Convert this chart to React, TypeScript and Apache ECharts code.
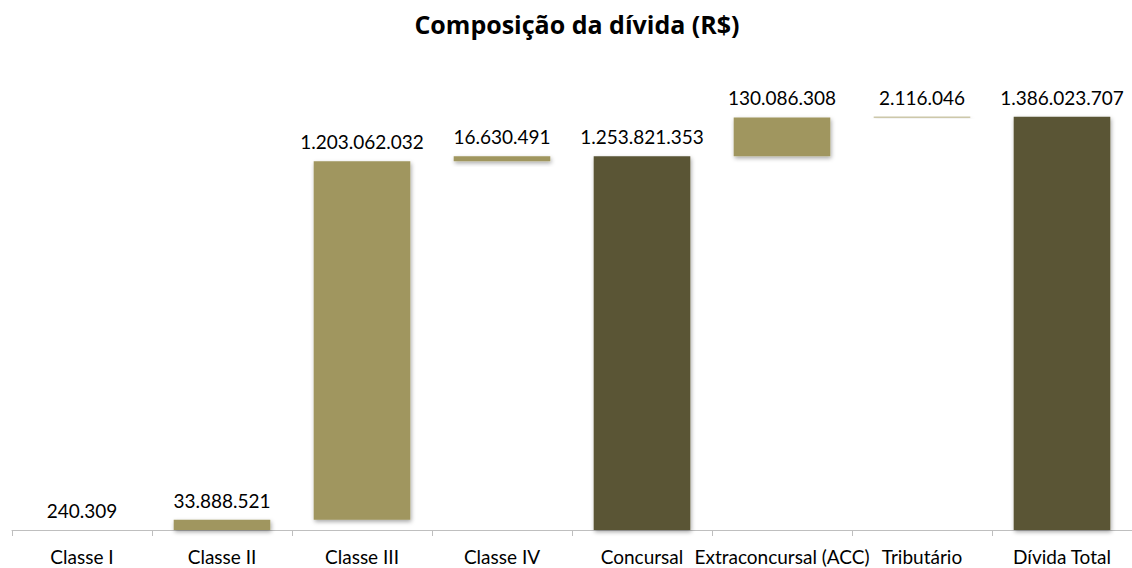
import React, { useEffect, useRef } from "react";
import * as echarts from "echarts";

const categories = [
  "Classe I",
  "Classe II",
  "Classe III",
  "Classe IV",
  "Concursal",
  "Extraconcursal (ACC)",
  "Tributário",
  "Dívida Total",
];
const values = [240309, 33888521, 1203062032, 16630491, 1253821353, 130086308, 2116046, 1386023707];
const isTotal = [false, false, false, false, true, false, false, true];
const titleText = "Composição da dívida (R$)";

const LIGHT = "#A0965E";
const DARK = "#5A5434";
const FONT = "Lato";

function fmt(v: number): string {
  return String(Math.round(v)).replace(/\B(?=(\d{3})+(?!\d))/g, ".");
}

export default function App() {
  const ref = useRef<HTMLDivElement>(null);
  useEffect(() => {
    if (!ref.current) return;
    const chart = echarts.init(ref.current, undefined, { renderer: "svg" });
    let running = 0;
    const bases: number[] = [];
    values.forEach((v, i) => {
      if (isTotal[i]) {
        bases.push(0);
        running = v;
      } else {
        bases.push(running);
        running += v;
      }
    });
    chart.setOption({
      animation: false,
      graphic: [
        {
          type: "text",
          x: 577,
          y: 11,
          style: {
            text: titleText,
            font: `bold 25px "Open Sans"`,
            fill: "#000",
            textAlign: "center",
            textVerticalAlign: "top",
          },
        },
      ],
      grid: { left: 12, right: 0, top: 53, bottom: 38, containLabel: false },
      xAxis: {
        type: "category",
        data: categories,
        axisLine: { lineStyle: { color: "#BFBFBF", width: 1 } },
        axisTick: { show: true, length: 6, interval: 0, lineStyle: { color: "#BFBFBF" } },
        axisLabel: {
          interval: 0,
          hideOverlap: false,
          fontSize: 19,
          fontFamily: FONT,
          color: "#000",
          margin: 17,
        },
      },
      yAxis: {
        type: "value",
        min: 0,
        max: 1600000000,
        show: false,
        splitLine: { show: false },
      },
      series: [
        {
          type: "bar",
          stack: "w",
          barWidth: "69%",
          data: bases,
          itemStyle: { color: "transparent" },
          silent: true,
        },
        {
          type: "bar",
          stack: "w",
          barWidth: "69%",
          data: values.map((v, i) => ({
            value: v,
            itemStyle: { color: isTotal[i] ? DARK : LIGHT },
          })),
          itemStyle: {
            shadowColor: "rgba(0,0,0,0.35)",
            shadowBlur: 4,
            shadowOffsetX: 1,
            shadowOffsetY: 2,
          },
          label: {
            show: true,
            position: "top",
            distance: 10,
            fontSize: 19,
            fontFamily: FONT,
            color: "#000",
            formatter: (p: any) => fmt(p.value),
          },
        },
      ],
    });
    return () => chart.dispose();
  }, []);
  return (
    <div
      ref={ref}
      style={{ position: "absolute", left: 0, top: 0, width: 1132, height: 568, background: "#fff" }}
    />
  );
}
